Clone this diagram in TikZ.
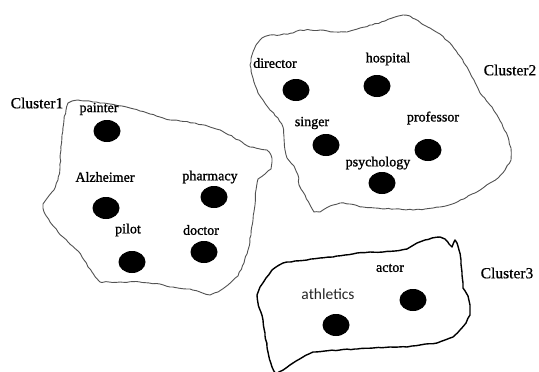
\documentclass[tikz,border=0pt]{standalone}
\usepackage{fontspec}
\setmainfont{Liberation Serif}
\newfontface\lab{Liberation Serif}[FakeBold=1.2]
\newfontface\clab{Liberation Serif}[FakeBold=0.6]
\newfontface\sanslab{Carlito}
\usetikzlibrary{shapes.geometric,decorations.pathmorphing}
\pgfmathsetseed{7}
\tikzset{
  dot/.style={ellipse, fill=black, draw=none, minimum width=27pt, minimum height=22pt, inner sep=0pt},
  word/.style={font=\lab\fontsize{14}{16}\selectfont, inner sep=0pt, text=black},
  clus/.style={font=\clab\fontsize{15.5}{18}\selectfont, inner sep=0pt, text=black},
  wobble/.style={decorate, decoration={random steps, segment length=3.5pt, amplitude=0.55pt}},
  thinborder/.style={draw=black!68, line width=0.9pt, line join=round, wobble},
  thickborder/.style={draw=black, line width=1.4pt, line join=round, decorate, decoration={random steps, segment length=4pt, amplitude=0.4pt}},
}
\begin{document}
\begin{tikzpicture}[x=1pt,y=-1pt]
\useasboundingbox (0,0) rectangle (539,372);
\clip (0,0) rectangle (539,372);
\fill[white] (0,0) rectangle (539,372);

% Cluster 1 outline
\draw[thinborder] (68,103) -- (72,101) -- (78,100) -- (93,102) -- (110,104) -- (122,106) -- (130,108) -- (140,111) -- (150,114) -- (160,117) -- (170,120) -- (180,121) -- (195,123) -- (210,127) -- (222,131) -- (233,137) -- (242,142) -- (250,147) -- (260,149) -- (267,150) -- (271,155) -- (272,162) -- (271,169) -- (265,174) -- (258,179) -- (256,190) -- (255,205) -- (253,220) -- (251,235) -- (248,250) -- (244,263) -- (238,276) -- (228,285) -- (218,292) -- (210,295) -- (200,292) -- (190,289) -- (170,287) -- (160,284) -- (140,282) -- (120,282) -- (100,282) -- (92,272) -- (84,260) -- (78,251) -- (68,242) -- (58,232) -- (50,222) -- (44,212) -- (43,204) -- (48,197) -- (54,190) -- (58,180) -- (60,168) -- (61,150) -- (62,135) -- (64,120) -- (66,110) -- cycle;

% Cluster 2 outline
\draw[thinborder] (262,38) -- (270,35) -- (280,35) -- (293,33) -- (300,30) -- (310,30) -- (320,30) -- (335,32) -- (347,32) -- (360,28) -- (372,25) -- (385,21) -- (395,17) -- (403,15) -- (410,16) -- (415,19) -- (422,24) -- (430,28) -- (440,34) -- (450,43) -- (458,54) -- (467,67) -- (474,80) -- (480,93) -- (490,105) -- (497,115) -- (503,127) -- (508,137) -- (511,148) -- (511,160) -- (505,170) -- (498,178) -- (490,183) -- (483,188) -- (475,193) -- (467,197) -- (455,203) -- (440,207) -- (425,209) -- (413,210) -- (395,209) -- (375,208) -- (363,207) -- (350,204) -- (340,203) -- (330,206) -- (320,212) -- (314,212) -- (310,205) -- (305,195) -- (299,185) -- (298,175) -- (294,166) -- (287,158) -- (285,150) -- (284,137) -- (283,127) -- (278,118) -- (270,110) -- (263,100) -- (258,93) -- (255,85) -- (252,75) -- (250,65) -- (252,55) -- (256,45) -- cycle;

% Cluster 3 outline
\draw[thickborder] (260,287) -- (266,278) -- (272,270) -- (283,263) -- (295,261) -- (307,260) -- (320,258) -- (333,257) -- (345,255) -- (357,253) -- (370,252) -- (383,252) -- (395,251) -- (407,249) -- (412,246) -- (417,243) -- (425,240) -- (432,238) -- (440,237) -- (445,239) -- (449,244) -- (452,247) -- (455,240) -- (457,243) -- (459,250) -- (461,260) -- (462,275) -- (463,288) -- (468,296) -- (470,305) -- (470,315) -- (466,323) -- (460,330) -- (453,337) -- (445,340) -- (437,343) -- (420,345) -- (407,347) -- (390,347) -- (373,348) -- (355,349) -- (340,350) -- (325,351) -- (313,352) -- (303,357) -- (293,363) -- (286,368) -- (276,374) -- (272,367) -- (269,357) -- (267,347) -- (265,333) -- (263,320) -- (260,310) -- (258,303) -- (257,295) -- cycle;

% Cluster labels
\node[clus] (c1) at (37,103) {Cluster1};
\node[clus] (c2) at (510,70) {Cluster2};
\node[clus] (c3) at (507,273) {Cluster3};

% Cluster 1 items
\node[word] (painter) at (99,109) {painter};
\node[dot] (painter-d) at (107,131) {};
\node[word] (alz) at (105,177) {Alzheimer};
\node[dot] (alz-d) at (106,208) {};
\node[word] (pharm) at (210,177) {pharmacy};
\node[dot] (pharm-d) at (214,197) {};
\node[word] (pilot) at (128,230) {pilot};
\node[dot] (pilot-d) at (132,262) {};
\node[word] (doctor) at (201,230) {doctor};
\node[dot] (doctor-d) at (204,252) {};

% Cluster 2 items
\node[word] (director) at (275,63) {director};
\node[dot] (director-d) at (296,90) {};
\node[word] (hospital) at (388,59) {hospital};
\node[dot] (hospital-d) at (377,86) {};
\node[word] (singer) at (312,123) {singer};
\node[dot] (singer-d) at (326,145) {};
\node[word] (prof) at (433,118) {professor};
\node[dot] (prof-d) at (428,150) {};
\node[word] (psych) at (378,163) {psychology};
\node[dot] (psych-d) at (382,183) {};

% Cluster 3 items
\node[word] (actor) at (390,268) {actor};
\node[dot] (actor-d) at (413,300) {};
\node[font=\sanslab\fontsize{15.5}{18}\selectfont, inner sep=0pt, text=black!85] (athl) at (328,294) {athletics};
\node[dot] (athl-d) at (336,325) {};
\end{tikzpicture}
\end{document}
